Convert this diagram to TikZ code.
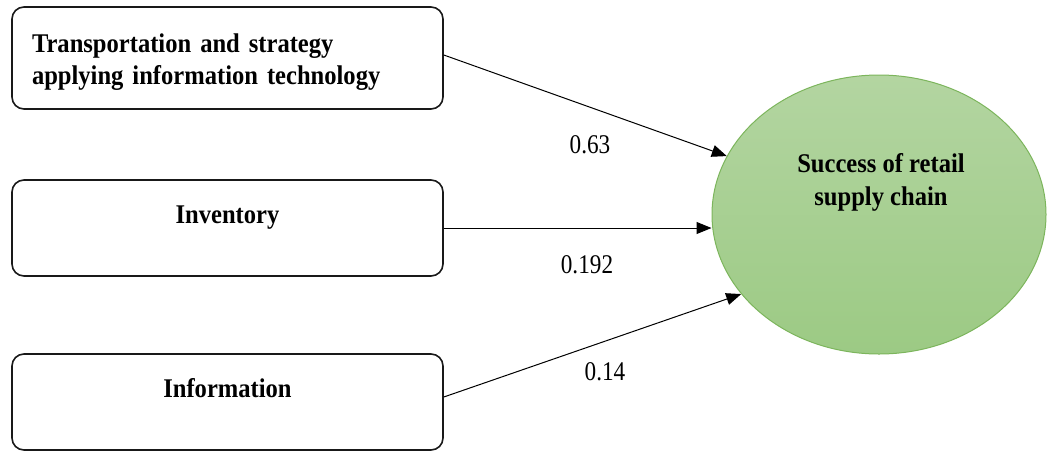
\documentclass[tikz,border=0pt]{standalone}
\usepackage{fontspec}
\setmainfont{Liberation Serif}
\newfontfamily\tnrb{Liberation Serif}[FakeStretch=0.91]
\newfontfamily\tnrn{Liberation Serif}[FakeStretch=0.86]
\usetikzlibrary{arrows.meta,shapes.geometric}
\definecolor{gborder}{HTML}{7CB55C}
\definecolor{gtop}{HTML}{B3D5A1}
\definecolor{gbot}{HTML}{9CCA84}
\begin{document}
\begin{tikzpicture}[x=1pt,y=-1pt,
  box/.style={draw=black!90, line width=1.6pt, rounded corners=12pt, minimum width=431pt,
    inner sep=0pt, font=\tnrb\bfseries\fontsize{27}{32.5}\selectfont},
  conn/.style={line width=1pt, -{Triangle[length=15pt,width=12pt]}},
  coef/.style={font=\tnrn\fontsize{27}{32}\selectfont, inner sep=0pt, anchor=base},
  goalshape/.style={ellipse, draw=gborder, line width=1pt, top color=gtop, bottom color=gbot,
    minimum width=334pt, minimum height=279pt, inner sep=0pt}]
\useasboundingbox (0,0) rectangle (1047,451);

\node[box, minimum height=102pt, text width=391pt, align=left, text height=45pt, text depth=57pt]
  (b1) at (227.5,58) {Transportation and strategy\\applying information technology};
\node[box, minimum height=96pt, text height=43pt, text depth=53pt] (b2) at (227.5,228) {Inventory};
\node[box, minimum height=96pt, text height=43pt, text depth=53pt] (b3) at (227.5,402) {Information};

\node[goalshape] (goal) at (879,214.5) {};
\node[font=\tnrb\bfseries\fontsize{27}{33}\selectfont, align=center, anchor=north, inner sep=0pt]
  (goaltxt) at (881,153.5) {Success of retail\\supply chain};

\coordinate (t2) at (b2.east -| goal.west);
\draw[conn] ([yshift=3pt]b1.east) -- (goal.159);
\draw[conn] (b2.east) -- (t2);
\draw[conn] ([yshift=5pt]b3.east) -- (goal.210);

\node[coef] (l1) at (590,153) {0.63};
\node[coef] (l2) at (587,273) {0.192};
\node[coef] (l3) at (605,380) {0.14};
\end{tikzpicture}
\end{document}
